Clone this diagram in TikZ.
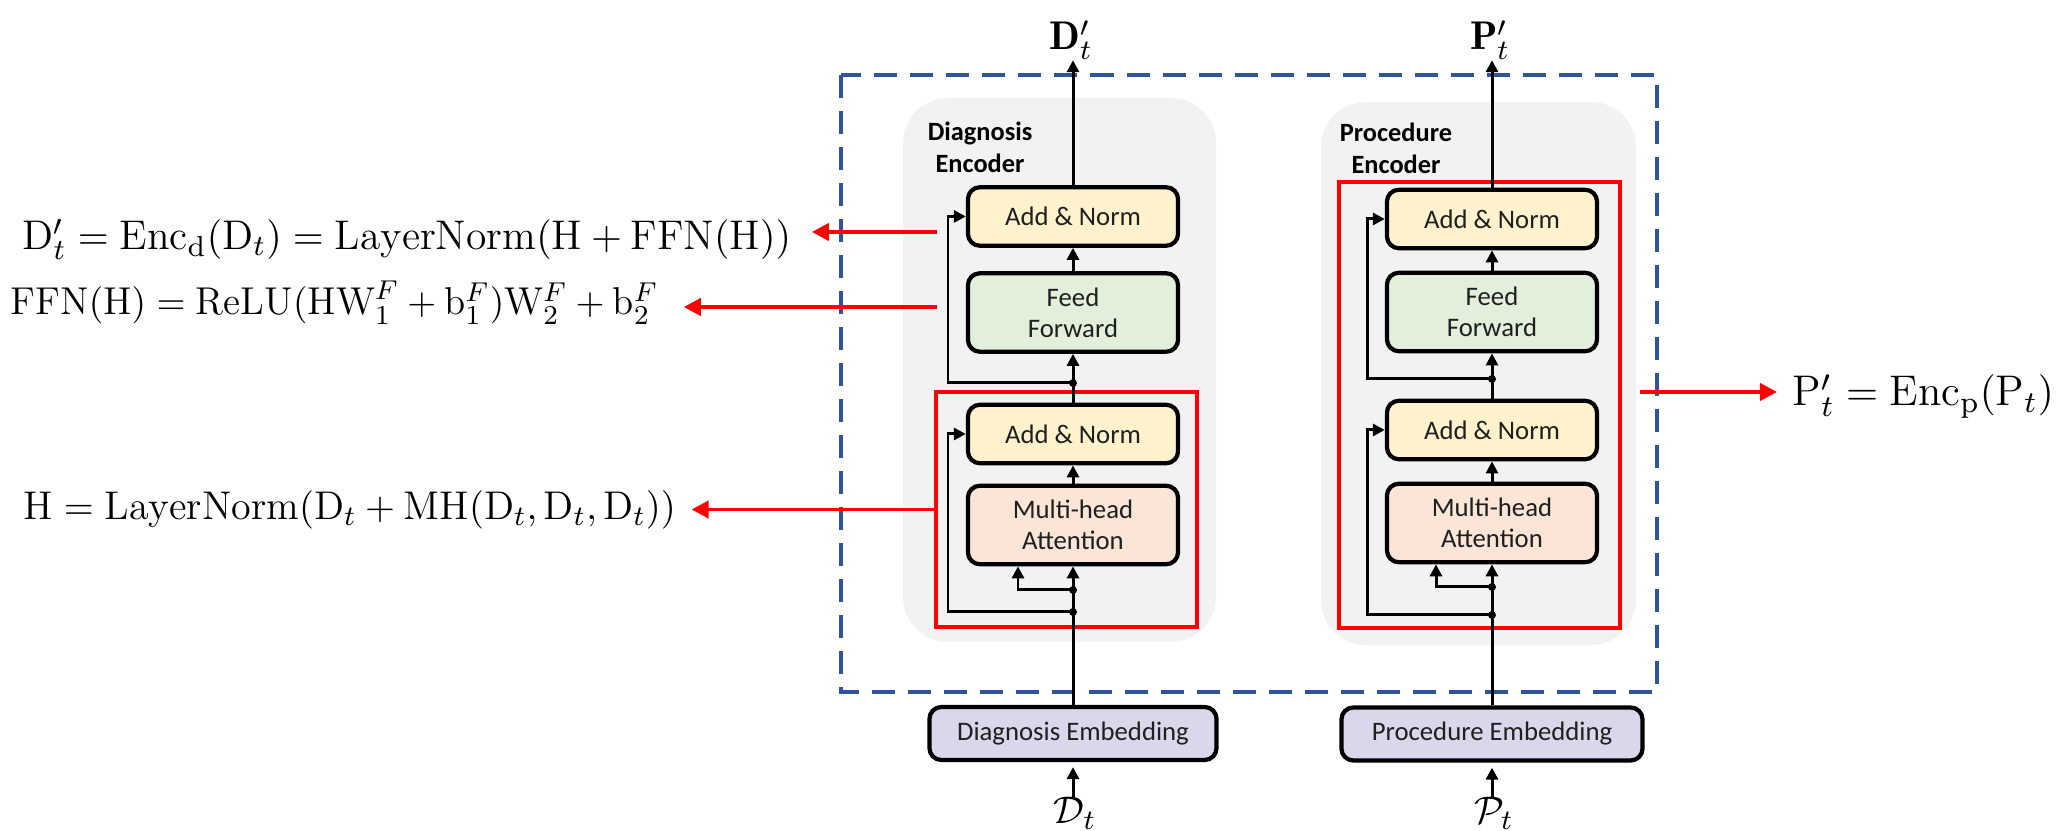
\documentclass[tikz,border=0pt]{standalone}
\usepackage{fontspec}
\usetikzlibrary{arrows.meta}
\newfontfamily\boxfont{Carlito}

\definecolor{annorm}{HTML}{FFF2CC}
\definecolor{ffcol}{HTML}{E2EFDA}
\definecolor{mhacol}{HTML}{FBE5D6}
\definecolor{embcol}{HTML}{DAD7EB}
\definecolor{panelgray}{HTML}{F2F2F2}
\definecolor{dashblue}{HTML}{2F5597}
\definecolor{boxtext}{HTML}{1F1F1F}

\tikzset{
  blk/.style={draw=black, line width=1.2pt, rounded corners=0.12cm, text=boxtext,
    font=\boxfont\fontsize{7.6}{8.8}\selectfont, align=center, inner sep=0pt,
    minimum width=2.1cm},
  addnorm/.style={blk, fill=annorm, minimum height=0.585cm},
  ffbox/.style={blk, fill=ffcol, minimum height=0.785cm},
  mhabox/.style={blk, fill=mhacol, minimum height=0.785cm},
  embbox/.style={blk, fill=embcol, minimum height=0.53cm},
  flow/.style={line width=0.85pt, -{Triangle[length=0.12cm,width=0.12cm]}},
  junction/.style={circle, fill=black, inner sep=0pt, minimum size=0.08cm},
  callout/.style={red, line width=1.1pt, -{Triangle[length=0.17cm,width=0.17cm]}},
  redframe/.style={draw=red, line width=1.2pt, inner sep=0pt},
  panel/.style={fill=panelgray, rounded corners=0.45cm},
  bluedash/.style={draw=dashblue, line width=1.1pt, dash pattern=on 0.23cm off 0.13cm},
  enctitle/.style={font=\boxfont\bfseries\fontsize{7.5}{9.1}\selectfont, align=center, text=black},
  eq/.style={font=\fontsize{11.4}{13}\selectfont, inner sep=0pt, anchor=base west, transform shape},
  lab/.style={font=\fontsize{11.4}{13}\selectfont, inner sep=0pt, anchor=base},
}

\begin{document}
\begin{tikzpicture}[x=0.01cm,y=-0.01cm]
\useasboundingbox (0,0) rectangle (2062,831);

% outer dashed frame and encoder panels
\draw[bluedash] (841,75) rectangle (1657,692);
\fill[panel] (903,98) rectangle (1216,642);
\fill[panel] (1321,102) rectangle (1636,645);

\node[enctitle] (dtitle) at (980,147) {Diagnosis\\Encoder};
\node[enctitle] (ptitle) at (1396,148) {Procedure\\Encoder};

% red highlight frames
\node[redframe, minimum width=2.61cm, minimum height=2.35cm] (dframe) at (1066.5,509.5) {};
\node[redframe, minimum width=2.81cm, minimum height=4.46cm] (pframe) at (1479.5,405) {};

% skip-line x positions
\coordinate (dskx) at (948,0);
\coordinate (dbrx) at (1018,0);
\coordinate (pskx) at (1367,0);
\coordinate (pbrx) at (1436,0);

% ---------------- diagnosis encoder ----------------
\node[addnorm] (dan1) at (1073,216.5) {Add \& Norm};
\node[ffbox]   (dff)  at (1073,312.5) {Feed\\Forward};
\node[addnorm] (dan2) at (1073,434) {Add \& Norm};
\node[mhabox]  (dmha) at (1073,525) {Multi-head\\Attention};
\node[embbox, minimum width=2.87cm] (demb) at (1073,733.5) {Diagnosis Embedding};

\node[junction] (dj1) at (1073,383) {};
\node[junction] (dj2) at (1073,590) {};
\node[junction] (dj3) at (1073,612) {};

\node[lab] (dtop) at (1071,50) {$\mathbf{D}_t^{\prime}$};
\node[lab] (din)  at (1075,824) {$\mathcal{D}_t$};

\draw[flow] (demb.north) -- (dmha.south);
\draw[flow] (dj2.center) -- (dj2.center -| dbrx) -- (dmha.south -| dbrx);
\draw[flow] (dj3.center) -- (dj3.center -| dskx) -- (dan2.west -| dskx) -- (dan2.west);
\draw[flow] (dmha.north) -- (dan2.south);
\draw[flow] (dan2.north) -- (dff.south);
\draw[flow] (dj1.center) -- (dj1.center -| dskx) -- (dan1.west -| dskx) -- (dan1.west);
\draw[flow] (dff.north) -- (dan1.south);
\draw[flow] (dan1.north) -- (dan1.north |- dtop.south);
\draw[flow, shorten >=0.05cm] (demb.south |- din.north) -- (demb.south);

% ---------------- procedure encoder ----------------
\node[addnorm] (pan1) at (1492,219) {Add \& Norm};
\node[ffbox]   (pff)  at (1492,312) {Feed\\Forward};
\node[addnorm] (pan2) at (1492,430) {Add \& Norm};
\node[mhabox]  (pmha) at (1492,523) {Multi-head\\Attention};
\node[embbox, minimum width=3.01cm] (pemb) at (1492,734) {Procedure Embedding};

\node[junction] (pj1) at (1492,379) {};
\node[junction] (pj2) at (1492,587) {};
\node[junction] (pj3) at (1492,615) {};

\node[lab] (ptop) at (1490,50) {$\mathbf{P}_t^{\prime}$};
\node[lab] (pin)  at (1494,824) {$\mathcal{P}_t$};

\draw[flow] (pemb.north) -- (pmha.south);
\draw[flow] (pj2.center) -- (pj2.center -| pbrx) -- (pmha.south -| pbrx);
\draw[flow] (pj3.center) -- (pj3.center -| pskx) -- (pan2.west -| pskx) -- (pan2.west);
\draw[flow] (pmha.north) -- (pan2.south);
\draw[flow] (pan2.north) -- (pff.south);
\draw[flow] (pj1.center) -- (pj1.center -| pskx) -- (pan1.west -| pskx) -- (pan1.west);
\draw[flow] (pff.north) -- (pan1.south);
\draw[flow] (pan1.north) -- (pan1.north |- ptop.south);
\draw[flow, shorten >=0.05cm] (pemb.south |- pin.north) -- (pemb.south);

% ---------------- equations ----------------
\node[eq, scale=1.034] (eq1) at (22,250)
  {$\mathrm{D}'_t = \mathrm{Enc}_{\mathrm{d}}(\mathrm{D}_t) = \mathrm{LayerNorm}(\mathrm{H} + \mathrm{FFN}(\mathrm{H}))$};
\node[eq, scale=0.968] (eq2) at (10,315)
  {$\mathrm{FFN}(\mathrm{H}) = \mathrm{ReLU}(\mathrm{HW}_1^F + \mathrm{b}_1^F)\mathrm{W}_2^F + \mathrm{b}_2^F$};
\node[eq] (eq3) at (23,520)
  {$\mathrm{H} = \mathrm{LayerNorm}(\mathrm{D}_t + \mathrm{MH}(\mathrm{D}_t, \mathrm{D}_t, \mathrm{D}_t))$};
\node[eq, scale=1.07] (eq4) at (1792,406)
  {$\mathrm{P}'_t = \mathrm{Enc}_{\mathrm{p}}(\mathrm{P}_t)$};

\coordinate (c1) at (937,232);
\coordinate (c2) at (937,307);
\coordinate (c4) at (1640,392);

\draw[callout, shorten >=0.2cm]  (c1) -- (c1 -| eq1.east);
\draw[callout, shorten >=0.25cm] (c2) -- (c2 -| eq2.east);
\draw[callout, shorten >=0.15cm] (dframe.west) -- (dframe.west -| eq3.east);
\draw[callout, shorten >=0.15cm] (c4) -- (c4 -| eq4.west);
\end{tikzpicture}
\end{document}
